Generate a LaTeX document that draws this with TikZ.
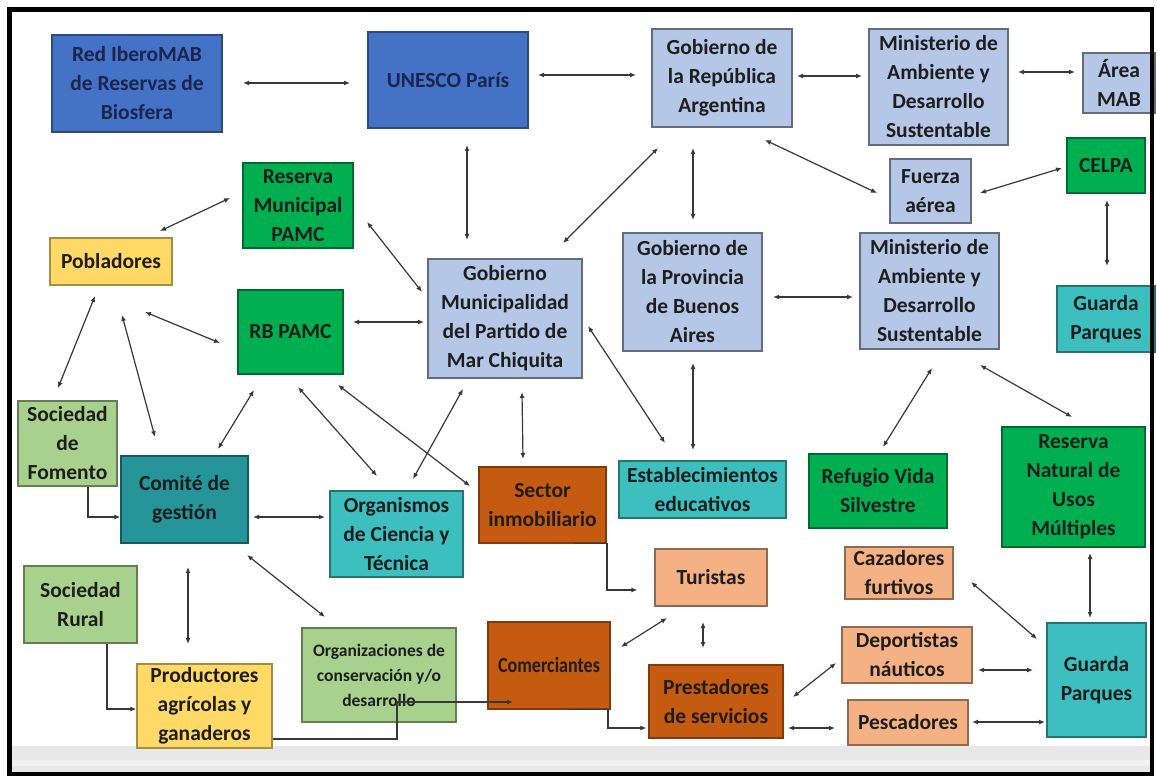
\documentclass[tikz,border=0pt]{standalone}
\usepackage{fontspec}
\setmainfont{Carlito}
\usetikzlibrary{arrows.meta,calc}
\definecolor{dblue}{HTML}{4472C4}
\definecolor{lblue}{HTML}{B4C7E7}
\definecolor{gren}{HTML}{00B050}
\definecolor{yell}{HTML}{FFD966}
\definecolor{lgren}{HTML}{A9D18E}
\definecolor{teal2}{HTML}{25959A}
\definecolor{turq}{HTML}{3DBFBF}
\definecolor{brwn}{HTML}{C55A11}
\definecolor{peach}{HTML}{F4B183}
\definecolor{txt}{HTML}{1E1E1E}
\definecolor{navytxt}{HTML}{1A2550}
\definecolor{lin}{HTML}{383838}
\begin{document}
\begin{tikzpicture}[x=1pt,y=-1pt,
  box/.style={draw, line width=1.2pt, inner sep=1pt, align=center, text=txt,
    font=\fontsize{21.5}{29}\selectfont\bfseries},
  bluebox/.style={box, fill=dblue, draw=dblue!65!black, text=navytxt},
  lbbox/.style={box, fill=lblue, draw=lblue!55!black},
  grbox/.style={box, fill=gren, draw=gren!60!black},
  ylbox/.style={box, fill=yell, draw=yell!65!black},
  lgbox/.style={box, fill=lgren, draw=lgren!60!black},
  tlbox/.style={box, fill=teal2, draw=teal2!60!black},
  tqbox/.style={box, fill=turq, draw=turq!60!black},
  brbox/.style={box, fill=brwn, draw=brwn!65!black},
  pcbox/.style={box, fill=peach, draw=peach!60!black},
  conn/.style={draw=lin, line width=1.2pt, {Latex[length=6pt,width=5pt]}-{Latex[length=6pt,width=5pt]}},
  elb/.style={draw=lin, line width=1.2pt, -{Latex[length=6pt,width=5pt]}}
]
\useasboundingbox (0,0) rectangle (1157,778);
\fill[white] (0,0) rectangle (1157,778);
\fill[gray!18] (12,746) rectangle (1150,772);
\fill[gray!10] (12,760) rectangle (1150,766);

% nodes
\node[bluebox, minimum width=170pt, minimum height=97pt] (ibero) at (137,83.5) {Red IberoMAB\\de Reservas de\\Biosfera};
\node[bluebox, minimum width=160pt, minimum height=96pt] (unesco) at (448,80) {UNESCO París};
\node[lbbox, minimum width=140pt, minimum height=98pt] (gobrep) at (722,78) {Gobierno de\\la República\\Argentina};
\node[lbbox, minimum width=139pt, minimum height=116pt] (min1) at (938.5,87) {Ministerio de\\Ambiente y\\Desarrollo\\Sustentable};
\node[lbbox, minimum width=72pt, minimum height=60pt] (area) at (1119,83) {Área\\MAB};
\node[grbox, minimum width=78pt, minimum height=55pt] (celpa) at (1106,165.5) {CELPA};
\node[lbbox, minimum width=81pt, minimum height=64pt] (fuerza) at (930.5,191) {Fuerza\\aérea};
\node[lbbox, minimum width=139pt, minimum height=116pt] (min2) at (929.5,291) {Ministerio de\\Ambiente y\\Desarrollo\\Sustentable};
\node[tqbox, minimum width=98pt, minimum height=66pt] (gp1) at (1106,319) {Guarda\\Parques};
\node[grbox, minimum width=110pt, minimum height=85pt] (resmun) at (298,205.5) {Reserva\\Municipal\\PAMC};
\node[ylbox, minimum width=122pt, minimum height=47pt] (pobl) at (111,261.5) {Pobladores};
\node[grbox, minimum width=105pt, minimum height=84pt] (rbpamc) at (290.5,332) {RB PAMC};
\node[lbbox, minimum width=154pt, minimum height=119pt] (gobmun) at (505,318.5) {Gobierno\\Municipalidad\\del Partido de\\Mar Chiquita};
\node[lbbox, minimum width=139pt, minimum height=118pt] (gobprov) at (692.5,292) {Gobierno de\\la Provincia\\de Buenos\\Aires};
\node[lgbox, minimum width=99pt, minimum height=85pt] (socfom) at (67.5,443.5) {Sociedad\\de\\Fomento};
\node[tlbox, minimum width=127pt, minimum height=87pt] (comite) at (184.5,499.5) {Comité de\\gestión};
\node[tqbox, minimum width=133pt, minimum height=86pt] (organ) at (396.5,534) {Organismos\\de Ciencia y\\Técnica};
\node[brbox, minimum width=127pt, minimum height=76pt] (sector) at (542.5,505) {Sector\\inmobiliario};
\node[tqbox, minimum width=167pt, minimum height=57pt] (estab) at (702.5,489.5) {Establecimientos\\educativos};
\node[grbox, minimum width=138pt, minimum height=74pt] (refugio) at (878,491) {Refugio Vida\\Silvestre};
\node[grbox, minimum width=143pt, minimum height=120pt] (resnat) at (1073.5,487) {Reserva\\Natural de\\Usos\\Múltiples};
\node[pcbox, minimum width=112pt, minimum height=57pt] (turistas) at (711,577.5) {Turistas};
\node[pcbox, minimum width=108pt, minimum height=52pt] (cazad) at (899,573) {Cazadores\\furtivos};
\node[lgbox, minimum width=113pt, minimum height=77pt] (socrur) at (80.5,604.5) {Sociedad\\Rural};
\node[ylbox, minimum width=135pt, minimum height=84pt] (produc) at (204.5,706) {Productores\\agrícolas y\\ganaderos};
\node[lgbox, minimum width=154pt, minimum height=94pt, font=\fontsize{17.5}{25}\selectfont\bfseries] (orgcons) at (379,675) {Organizaciones de\\conservación y/o\\desarrollo};
\node[brbox, minimum width=122pt, minimum height=87pt] (comerc) at (549,665.5) {\scalebox{0.84}[1]{Comerciantes}};
\node[brbox, minimum width=134pt, minimum height=73pt] (prest) at (716,701.5) {Prestadores\\de servicios};
\node[pcbox, minimum width=130pt, minimum height=56pt] (deport) at (907,655) {Deportistas\\náuticos};
\node[pcbox, minimum width=120pt, minimum height=45pt] (pesc) at (908,722.5) {Pescadores};
\node[tqbox, minimum width=99pt, minimum height=114pt] (gp2) at (1096.5,680) {Guarda\\Parques};

% connectors
\draw[conn] ($(ibero)+(106,-0.5)$) -- ($(unesco)+(-98,3)$);
\draw[conn] ($(unesco)+(90,-5)$) -- ($(gobrep)+(-86,-3)$);
\draw[conn] ($(gobrep)+(75,-2)$) -- ($(min1)+(-76.5,-11)$);
\draw[conn] ($(min1)+(79.5,-15)$) -- ($(area)+(-44,-11)$);
\draw[conn] ($(unesco)+(19,65)$) -- ($(gobmun)+(-38,-78.5)$);
\draw[conn] ($(gobrep)+(-64,70)$) -- ($(gobmun)+(58,-75.5)$);
\draw[conn] ($(gobrep)+(-29,70)$) -- ($(gobprov)+(0.5,-72)$);
\draw[conn] ($(gobrep)+(43,62)$) -- ($(fuerza)+(-53.5,2)$);
\draw[conn] ($(fuerza)+(49.5,2)$) -- ($(celpa)+(-44,2.5)$);
\draw[conn] ($(celpa)+(1,34.5)$) -- ($(gp1)+(1,-53)$);
\draw[conn] ($(gobprov)+(80.5,5)$) -- ($(min2)+(-76.5,6)$);
\draw[conn] ($(min2)+(2.5,77)$) -- ($(refugio)+(5,-44)$);
\draw[conn] ($(min2)+(50.5,74)$) -- ($(resnat)+(-1.5,-70)$);
\draw[conn] ($(gobprov)+(0.5,71)$) -- ($(estab)+(-9.5,-39.5)$);
\draw[conn] ($(gobmun)+(83,7.5)$) -- ($(estab)+(-37.5,-46.5)$);
\draw[conn] ($(gobmun)+(17,73.5)$) -- ($(sector)+(-19.5,-46)$);
\draw[conn] ($(gobmun)+(-42,70.5)$) -- ($(organ)+(16.5,-55)$);
\draw[conn] ($(rbpamc)+(62.5,-10)$) -- ($(gobmun)+(-81,3.5)$);
\draw[conn] ($(resmun)+(69,16.5)$) -- ($(gobmun)+(-83,-26.5)$);
\draw[conn] ($(resmun)+(-68,-7.5)$) -- ($(pobl)+(49,-30.5)$);
\draw[conn] ($(pobl)+(34,50.5)$) -- ($(rbpamc)+(-70.5,11)$);
\draw[conn] ($(pobl)+(-16,34.5)$) -- ($(socfom)+(-9.5,-55.5)$);
\draw[conn] ($(pobl)+(11,53.5)$) -- ($(comite)+(-29.5,-62.5)$);
\draw[conn] ($(rbpamc)+(-36.5,58)$) -- ($(comite)+(33.5,-50.5)$);
\draw[conn] ($(rbpamc)+(7.5,55)$) -- ($(organ)+(-19.5,-58)$);
\draw[conn] ($(rbpamc)+(47.5,53)$) -- ($(sector)+(-72.5,-19)$);
\draw[conn] ($(comite)+(68.5,17.5)$) -- ($(organ)+(-71.5,-17)$);
\draw[conn] ($(comite)+(3.5,67.5)$) -- ($(produc)+(-16.5,-62)$);
\draw[conn] ($(comite)+(62.5,55.5)$) -- ($(orgcons)+(-54,-58)$);
\draw[elb] ($(socfom.south)+(20.5,0)$) |- ($(comite.west)+(0,17.5)$);
\draw[elb] ($(socrur.south)+(26.5,0)$) |- ($(produc.west)+(0,3)$);
\draw[elb] ($(produc.east)+(0,33)$) -| ($(comerc)+(-152,36.5)$) -- ($(comerc)+(-36,36.5)$);
\draw[elb] ($(sector.south)+(32.5,0)$) -- ++(32,0) |- ($(turistas.west)+(-17,12.5)$);
\draw[elb] ($(comerc.south)+(19,0)$) -- ++(40,0) |- ($(prest.west)+(-2,26.5)$);
\draw[conn] ($(turistas)+(-44,40.5)$) -- ($(comerc)+(72,-18.5)$);
\draw[conn] ($(turistas)+(-8,44.5)$) -- ($(prest)+(-13,-53.5)$);
\draw[conn] ($(prest)+(77,-4.5)$) -- ($(deport)+(-71,8)$);
\draw[conn] ($(prest)+(72,26.5)$) -- ($(pesc)+(-73,5.5)$);
\draw[conn] ($(deport)+(71,15)$) -- ($(gp2)+(-63.5,-10)$);
\draw[conn] ($(pesc)+(64,-0.5)$) -- ($(gp2)+(-51.5,42)$);
\draw[conn] ($(cazad)+(72,9)$) -- ($(gp2)+(-59.5,-41)$);
\draw[conn] ($(resnat)+(16.5,66)$) -- ($(gp2)+(-6.5,-62)$);

% outer frame
\draw[black, line width=4.5pt] (9.5,9.5) rectangle (1152,774);
\end{tikzpicture}
\end{document}
